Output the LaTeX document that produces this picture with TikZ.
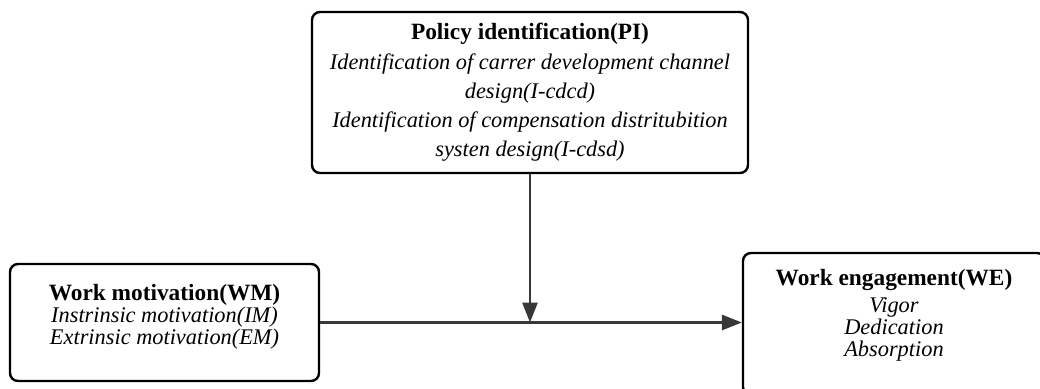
\documentclass[tikz,border=0pt]{standalone}
\usepackage{fontspec}
\setmainfont{Liberation Serif}
\usetikzlibrary{positioning,arrows.meta}

\begin{document}
\begin{tikzpicture}[
    block/.style={draw=black, fill=white, rectangle, line width=1.7pt, rounded corners=0.2cm, align=center},
    small/.style={block, font=\fontsize{15.9}{15.6}\selectfont},
    wide/.style={block, font=\fontsize{15.9}{20.8}\selectfont},
    arrow/.style={-{Triangle[length=0.5cm, width=0.38cm]}, line width=1.7pt, draw=black!78}
]
    \clip (0,0) rectangle (26,-9.725);

    % Blocks
    \node[wide, minimum width=10.9cm, minimum height=4.025cm] (PI) at (13.25,-2.3125)
        {{\bfseries\fontsize{16.6}{20.8}\selectfont Policy identification(PI)}\\
         \textit{Identification of carrer development channel}\\
         \textit{design(I-cdcd)}\\
         \textit{Identification of compensation distritubition}\\
         \textit{systen design(I-cdsd)}};
    \node[small, minimum width=7.725cm, minimum height=2.925cm, text depth=12pt] (WM) at (4.1125,-8.0625)
        {{\bfseries\fontsize{16.6}{15.6}\selectfont Work motivation(WM)}\\
         \textit{Instrinsic motivation(IM)}\\
         \textit{Extrinsic motivation(EM)}};
    \node[small, minimum width=7.55cm, minimum height=3.55cm, text depth=16pt] (WE) at (22.35,-8.1)
        {{\bfseries\fontsize{16.6}{15.6}\selectfont Work engagement(WE)}\\[3.5pt]
         \textit{Vigor}\\
         \textit{Dedication}\\
         \textit{Absorption}};

    \coordinate (joint) at (PI.south |- WM.east);

    % Arrows
    \draw[arrow] (WM.east) -- (WM.east -| WE.west);
    \draw[arrow] (PI.south) -- (joint);
\end{tikzpicture}
\end{document}
